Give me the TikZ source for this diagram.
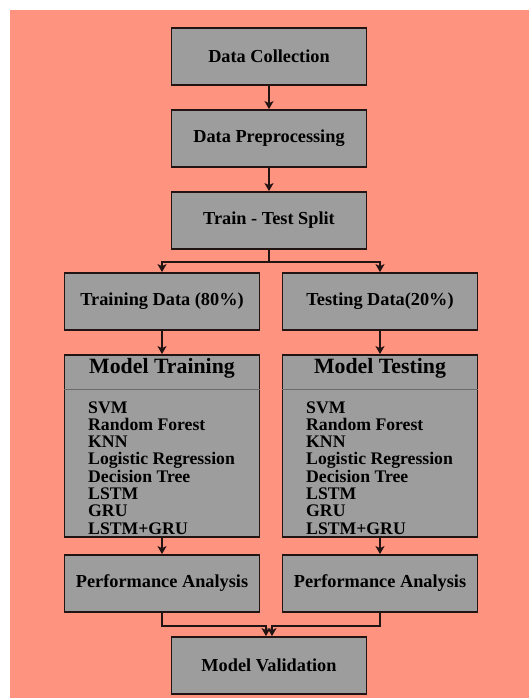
\documentclass[tikz,border=0pt]{standalone}
\usepackage{fontspec}
\setmainfont{Liberation Serif}
\usetikzlibrary{arrows.meta}
\definecolor{Salmon}{HTML}{FE937F}
\definecolor{BoxGray}{HTML}{9D9D9D}
\definecolor{Edge}{HTML}{231414}
\definecolor{Divider}{HTML}{6E6A69}
\tikzset{
  box/.style={draw=Edge,line width=1.8pt,fill=BoxGray,minimum width=195pt,minimum height=57pt,inner sep=0pt,font=\bfseries\fontsize{18.3}{20}\selectfont},
  boxtitle/.style={inner sep=0pt,font=\bfseries\fontsize{21.8}{24}\selectfont},
  item/.style={anchor=base west,inner sep=0pt,font=\bfseries\fontsize{17.7}{17}\selectfont},
  arr/.style={draw=Edge,line width=1.5pt,-{Stealth[length=8pt,width=9pt,inset=2pt]}}
}

\begin{document}
\begin{tikzpicture}[x=1pt,y=-1pt]
  \fill[white] (0,0) rectangle (529,698);
  \fill[Salmon] (10,10) rectangle (529,698);
  \useasboundingbox (0,0) rectangle (529,698);
  \node[box] (collect) at (269,56.5) {Data Collection};
  \node[box] (prep) at (269,138.5) {Data Preprocessing};
  \node[box] (split) at (269,220.5) {Train - Test Split};
  \node[box] (trainD) at (162,301.5) {Training Data (80\%)};
  \node[box] (testD) at (380,301.5) {Testing Data(20\%)};
  \node[box,minimum height=182pt] (trainM) at (162,446) {};
  \node[box,minimum height=182pt] (testM) at (380,446) {};
  \node[boxtitle] (trainT) at (162,368) {Model Training};
  \node[boxtitle] (testT) at (380,368) {Model Testing};
  \draw[Divider,line width=1pt] ([yshift=-35pt]trainM.north west) -- ([yshift=-35pt]trainM.north east);
  \draw[Divider,line width=1pt] ([yshift=-35pt]testM.north west) -- ([yshift=-35pt]testM.north east);
  \foreach \m [count=\i] in {SVM,Random Forest,KNN,Logistic Regression,Decision Tree,LSTM,GRU,LSTM+GRU}{
    \node[item] (trainI\i) at (88,{413+17.3*(\i-1)}) {\m};
    \node[item] (testI\i) at (306,{413+17.3*(\i-1)}) {\m};
  }
  \node[box] (perfL) at (162,583.5) {Performance Analysis};
  \node[box] (perfR) at (380,583.5) {Performance Analysis};
  \node[box] (valid) at (269,665.5) {Model Validation};

  \draw[arr] (collect) -- (prep);
  \draw[arr] (prep) -- (split);
  \draw[arr] (split.south) -- ++(0,12) -| (trainD.north);
  \draw[arr] (split.south) -- ++(0,12) -| (testD.north);
  \draw[arr] (trainD) -- (trainM);
  \draw[arr] (testD) -- (testM);
  \draw[arr] (trainM) -- (perfL);
  \draw[arr] (testM) -- (perfR);
  \draw[arr] (perfL.south) -- ++(0,13) -| ([xshift=-3pt]valid.north);
  \draw[arr] (perfR.south) -- ++(0,13) -| ([xshift=3pt]valid.north);
\end{tikzpicture}
\end{document}
